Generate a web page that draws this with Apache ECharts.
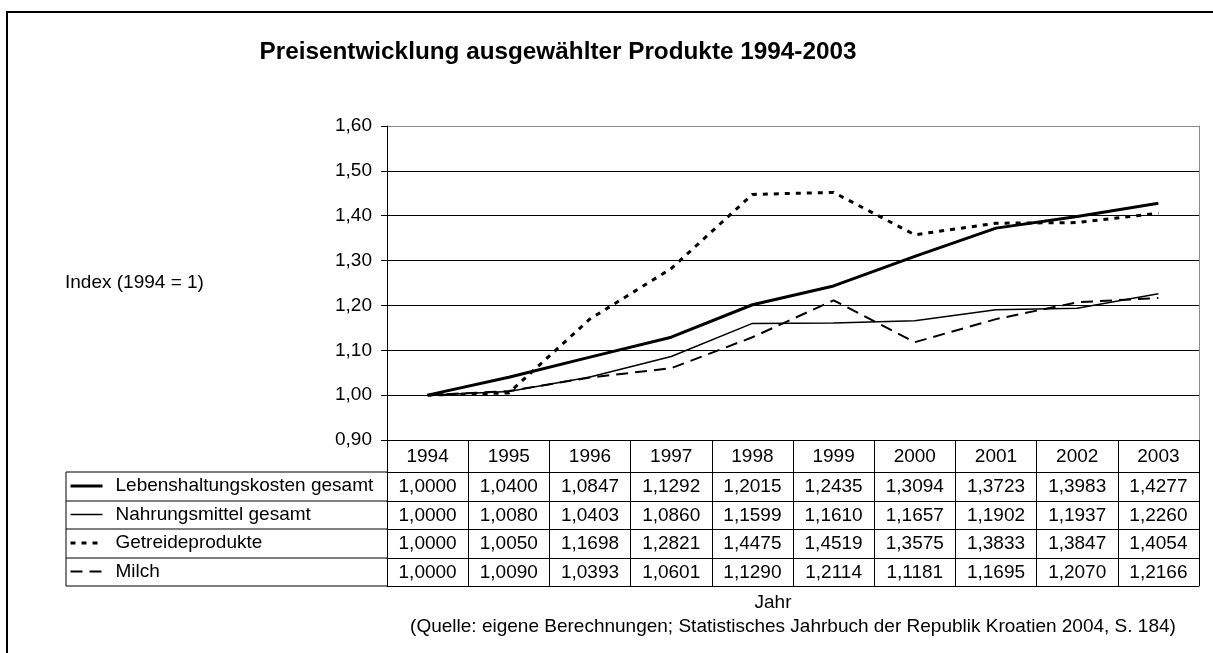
<!DOCTYPE html>
<html>
<head>
<meta charset="utf-8">
<script src="https://cdn.jsdelivr.net/npm/echarts@6/dist/echarts.min.js"></script>
<style>
  html, body { margin: 0; padding: 0; background: #fff; }
  #chart { width: 1213px; height: 653px; }
</style>
</head>
<body>
<div id="chart"></div>
<script>
(() => {
    // Jahre und Indexwerte (1994 = 1)
    const years = ['1994', '1995', '1996', '1997', '1998', '1999', '2000', '2001', '2002', '2003'];
    const seriesNames = ['Lebenshaltungskosten gesamt', 'Nahrungsmittel gesamt', 'Getreideprodukte', 'Milch'];
    const leben = [1.0000, 1.0400, 1.0847, 1.1292, 1.2015, 1.2435, 1.3094, 1.3723, 1.3983, 1.4277];
    const nahrung = [1.0000, 1.0080, 1.0403, 1.0860, 1.1599, 1.1610, 1.1657, 1.1902, 1.1937, 1.2260];
    const getreide = [1.0000, 1.0050, 1.1698, 1.2821, 1.4475, 1.4519, 1.3575, 1.3833, 1.3847, 1.4054];
    const milch = [1.0000, 1.0090, 1.0393, 1.0601, 1.1290, 1.2114, 1.1181, 1.1695, 1.2070, 1.2166];
    const allValues = [leben, nahrung, getreide, milch];

    const FONT = 'Liberation Sans, Arial, sans-serif';
    const FS = 19;

    // Layout of the plot and the data table underneath
    const plotLeft = 387, plotRight = 1199, plotTop = 126, plotBottom = 440;
    const tableLeft = 66;
    const rowOffsets = [32, 61, 89, 118, 146]; // lines below the header row

    const styles = [
        { type: 'solid', width: 3 },
        { type: 'solid', width: 1.5 },
        { type: [5, 6], width: 3 },
        { type: [12, 7], width: 2 }
    ];

    const comma = (v, d) => v.toFixed(d).replace('.', ',');

    let xAxes = [{
        type: 'category',
        data: years,
        position: 'bottom',
        boundaryGap: true,
        axisLine: { lineStyle: { color: '#000', width: 1 } },
        axisTick: { show: true, inside: false, length: rowOffsets[0], lineStyle: { color: '#000' } },
        axisLabel: { color: '#000', fontSize: FS, fontFamily: FONT, margin: 7 },
        splitLine: { show: false }
    }];
    allValues.forEach((vals, i) => {
        xAxes.push({
            type: 'category',
            data: years,
            position: 'bottom',
            offset: rowOffsets[i],
            boundaryGap: true,
            axisLine: { lineStyle: { color: '#000', width: 1 } },
            axisTick: { show: true, inside: false, length: rowOffsets[i + 1] - rowOffsets[i], lineStyle: { color: '#000' } },
            axisLabel: {
                color: '#000', fontSize: FS, fontFamily: FONT, margin: 5,
                formatter: (value, idx) => comma(vals[idx], 4)
            }
        });
    });
    // unterste Tabellenlinie
    xAxes.push({
        type: 'category',
        data: years,
        position: 'bottom',
        offset: rowOffsets[4],
        axisLine: { lineStyle: { color: '#000', width: 1 } },
        axisTick: { show: false },
        axisLabel: { show: false }
    });

    const series = allValues.map((vals, i) => ({
        name: seriesNames[i],
        type: 'line',
        data: vals,
        xAxisIndex: 0,
        yAxisIndex: 0,
        symbol: 'none',
        smooth: false,
        lineStyle: { color: '#000', width: styles[i].width, type: styles[i].type },
        itemStyle: { color: '#000' },
        z: 3
    }));

    // Linien der Legendenspalte in der Tabelle
    const graphics = [{
        type: 'rect',
        shape: { x: 7, y: 12, width: 1240, height: 700 },
        style: { fill: 'none', stroke: '#000', lineWidth: 2 },
        silent: true
    }];
    rowOffsets.forEach(off => {
        graphics.push({
            type: 'line',
            shape: { x1: tableLeft, y1: plotBottom + off, x2: plotLeft, y2: plotBottom + off },
            style: { stroke: '#000', lineWidth: 1 },
            silent: true
        });
    });
    graphics.push({
        type: 'line',
        shape: { x1: tableLeft, y1: plotBottom + rowOffsets[0], x2: tableLeft, y2: plotBottom + rowOffsets[4] },
        style: { stroke: '#000', lineWidth: 1 },
        silent: true
    });
    const texts = [
        { text: 'Preisentwicklung ausgewählter Produkte 1994-2003', x: 558, y: 52, font: 'bold 24.3px ' + FONT },
        { text: 'Index (1994 = 1)', x: 65, y: 283, font: FS + 'px ' + FONT, align: 'left' },
        { text: 'Jahr', x: 773, y: 603, font: FS + 'px ' + FONT },
        { text: '(Quelle: eigene Berechnungen; Statistisches Jahrbuch der Republik Kroatien 2004, S. 184)', x: 793, y: 627, font: FS + 'px ' + FONT }
    ];
    texts.forEach(t => {
        graphics.push({
            type: 'text',
            x: t.x, y: t.y,
            style: {
                text: t.text, font: t.font, fill: '#000',
                textAlign: t.align || 'center', textVerticalAlign: 'middle'
            },
            silent: true
        });
    });

    const option = {
        animation: false,
        backgroundColor: '#fff',
        grid: {
            left: plotLeft, top: plotTop,
            width: plotRight - plotLeft, height: plotBottom - plotTop,
            containLabel: false
        },
        legend: {
            data: seriesNames.map((name, i) => ({
                name: name,
                lineStyle: { width: styles[i].width, type: styles[i].type, color: '#000' }
            })),
            orient: 'vertical',
            left: 69,
            top: 476,
            padding: 0,
            itemWidth: 32,
            itemHeight: 14,
            itemGap: 8.5,
            itemStyle: { opacity: 0 },
            textStyle: { color: '#000', fontSize: FS, fontFamily: FONT, lineHeight: 20, padding: [0, 0, 0, 8] },
            selectedMode: false
        },
        xAxis: xAxes,
        yAxis: [{
            type: 'value',
            min: 0.9,
            max: 1.6,
            interval: 0.1,
            axisLine: { show: true, lineStyle: { color: '#000' } },
            axisTick: { show: true, length: 6, lineStyle: { color: '#000' } },
            axisLabel: {
                color: '#000', fontSize: FS, fontFamily: FONT, margin: 15,
                formatter: v => comma(v, 2)
            },
            splitLine: {
                show: true,
                lineStyle: { color: ['#000', '#000', '#000', '#000', '#000', '#000', '#000', '#8c8c8c'], width: 1 }
            }
        }, {
            type: 'value',
            position: 'right',
            min: 0.9,
            max: 1.6,
            axisLine: { show: true, lineStyle: { color: '#8c8c8c' } },
            axisTick: { show: false },
            axisLabel: { show: false },
            splitLine: { show: false }
        }],
        series: series,
        graphic: graphics
    };

    const chart = echarts.init(document.getElementById('chart'), null, { renderer: 'canvas' });
    chart.setOption(option);
})();
</script>
</body>
</html>
